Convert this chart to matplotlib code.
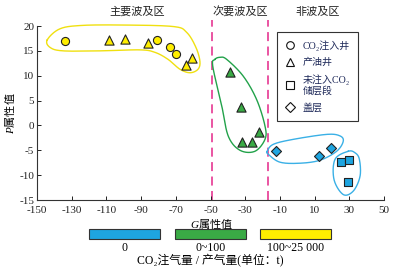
import numpy as np
import matplotlib
matplotlib.use('Agg')
import matplotlib.pyplot as plt
from matplotlib.lines import Line2D
from matplotlib.patches import Rectangle

plt.rcParams['font.family'] = ['Liberation Serif', 'DejaVu Serif', 'Noto Sans CJK SC']
plt.rcParams['mathtext.fontset'] = 'custom'
plt.rcParams['mathtext.it'] = 'Liberation Serif:italic'
plt.rcParams['mathtext.rm'] = 'Liberation Serif'
plt.rcParams['axes.unicode_minus'] = False

# --- data (G, P) ---
inj_g = [-134, -81, -73.5, -70]            # CO2 injection wells (yellow)
inj_p = [17.0, 17.1, 15.7, 14.3]
prod_main_g = [-108.5, -99, -86, -64, -60.5]  # oil wells, main zone (yellow)
prod_main_p = [17.2, 17.4, 16.6, 12.1, 13.5]
prod_sec_g = [-39, -32.5, -22, -32, -26]      # oil wells, secondary zone (green)
prod_sec_p = [10.8, 3.8, -1.3, -3.3, -3.3]
cap_g = [-12.5, 12.5, 19.5]                   # cap rock (blue)
cap_p = [-5.2, -6.2, -4.6]
res_g = [25.5, 30, 29]                        # reservoir without CO2 (blue)
res_p = [-7.4, -7.0, -11.3]

zone_bounds = [-49, -17]
zone_names = ['主要波及区', '次要波及区', '非波及区']
zone_label_x = [-92, -33, 11.5]

class_colors = ['#1ea5e0', '#3aaa45', '#ffee00']
class_edges = ['#3ab0e6', '#22a24a', '#f0e010']
class_labels = ['0', '0~100', '100~25 000']

legend_labels = ['CO₂注入井', '产油井', '未注入CO₂\n储层段', '盖层']
legend_markers = ['o', '^', 's', 'D']

# hand-traced enclosures around the groups
main_zone = [(-144.1, 17.2), (-137, 19.4), (-125, 20.1), (-102, 20.2), (-71.6, 19.9),
             (-63.7, 18.7), (-58.4, 15.7), (-56.1, 12.9), (-57.2, 11.3), (-61.8, 10.6),
             (-67.6, 11.3), (-74.5, 13.3), (-82, 14.7), (-90.6, 15.2), (-113.7, 15.0),
             (-135, 15.0), (-142.5, 15.7)]
sec_zone = [(-47.4, 13.3), (-48.7, 11.9), (-43.5, 3.9), (-39.7, -2.2), (-33, -5.0),
            (-24.4, -5.2), (-18.6, -2.8), (-18.6, -0.1), (-23.4, 5.2), (-31.1, 9.9),
            (-40.7, 13.3), (-44.5, 13.7)]
cap_zone = [(-17.3, -5.2), (-13.8, -3.8), (-2.3, -2.8), (17.0, -1.8), (24.6, -2.1),
            (26.5, -3.2), (22.7, -5.2), (13.1, -7.0), (1.6, -7.6), (-9.9, -7.4),
            (-16.7, -5.8)]
res_zone = [(29.4, -5.2), (21.8, -6.8), (21.2, -10.9), (26.5, -13.9), (32.3, -13.2),
            (36.2, -10.2), (35.8, -6.8), (33.3, -5.5)]


def smooth_closed(pts, n=30):
    # closed Catmull-Rom spline, computed in roughly pixel-proportional units
    sx, sy = 1.735, 4.97
    p = np.array(pts, float) * [sx, sy]
    N = len(p)
    t = np.linspace(0, 1, n, endpoint=False)[:, None]
    segs = []
    for i in range(N):
        p0, p1, p2, p3 = p[i - 1], p[i], p[(i + 1) % N], p[(i + 2) % N]
        segs.append(0.5 * (2 * p1 + (-p0 + p2) * t + (2 * p0 - 5 * p1 + 4 * p2 - p3) * t ** 2
                           + (-p0 + 3 * p1 - 3 * p2 + p3) * t ** 3))
    out = np.vstack(segs + [segs[0][:1]])
    return out[:, 0] / sx, out[:, 1] / sy


fig = plt.figure(figsize=(4, 2.72), dpi=100)
ax = fig.add_axes([0.0925, 0.2647, 0.8675, 0.6397])

for shape, col in [(main_zone, class_edges[2]), (sec_zone, class_edges[1]),
                   (cap_zone, class_edges[0]), (res_zone, class_edges[0])]:
    xs, ys = smooth_closed(shape)
    ax.plot(xs, ys, color=col, lw=1.0, zorder=2, clip_on=False)

for xb in zone_bounds:
    ax.plot([xb, xb], [-15, 21.3], color='#e8479b', lw=1.3, ls=(0, (5, 3)),
            clip_on=False, zorder=1)

mk = dict(edgecolors='#222222', linewidths=0.8, zorder=3)
ax.scatter(inj_g, inj_p, marker='o', s=34, c=class_colors[2], **mk)
ax.scatter(prod_main_g, prod_main_p, marker='^', s=44, c=class_colors[2], **mk)
ax.scatter(prod_sec_g, prod_sec_p, marker='^', s=44, c=class_colors[1], **mk)
ax.scatter(cap_g, cap_p, marker='D', s=26, c=class_colors[0], **mk)
ax.scatter(res_g, res_p, marker='s', s=26, c=class_colors[0], **mk)

for name, xl in zip(zone_names, zone_label_x):
    ax.text(xl, 22.9, name, ha='center', va='center', fontsize=8,
            family=['Noto Sans CJK SC'], color='#222222', clip_on=False)

ax.set_xlim(-150, 50)
ax.set_ylim(-15, 20)
ax.set_xticks(np.arange(-150, 51, 20))
ax.set_yticks(np.arange(-15, 21, 5))
ax.tick_params(direction='in', length=3, width=0.7, labelsize=8, colors='#222222', pad=2)
ax.tick_params(axis='x', pad=4)
for side in ['top', 'right']:
    ax.spines[side].set_visible(False)
for side in ['left', 'bottom']:
    ax.spines[side].set_linewidth(0.8)
    ax.spines[side].set_color('#333333')

ax.set_xlabel(r'$G$属性值', fontsize=8, family=['Noto Sans CJK SC'])
ax.xaxis.set_label_coords(0.503, -0.095)
ax.set_ylabel(r'$P$属性值', fontsize=8, family=['Noto Sans CJK SC'])
ax.yaxis.set_label_coords(-0.058, 0.5)

handles = [Line2D([], [], marker=m, ls='none', mfc='white', mec='#111111', mew=0.8, ms=5.5)
           for m in legend_markers]
leg = fig.legend(handles, legend_labels, loc='upper left',
                 bbox_to_anchor=(277 / 400, 1 - 32 / 272), borderaxespad=0,
                 prop={'family': ['Liberation Serif', 'Noto Sans CJK SC'], 'size': 7.2},
                 frameon=True, fancybox=False, edgecolor='#333333', framealpha=1,
                 handlelength=1.0, handletextpad=0.8, borderpad=0.8, labelspacing=0.7)
leg.get_frame().set_linewidth(0.8)
for t in leg.get_texts():
    t.set_color('#1f2a5a')

# colour class swatches under the axes
sw_x = [89, 175, 260]
for xp, col, lab in zip(sw_x, class_colors, class_labels):
    fig.patches.append(Rectangle((xp / 400, 1 - 239 / 272), 71 / 400, 10 / 272,
                                 transform=fig.transFigure, facecolor=col,
                                 edgecolor='#333333', lw=0.8))
    fig.text((xp + 35.5) / 400, 1 - 248 / 272, lab, ha='center', va='center', fontsize=8.5)
fig.text(0.525, 1 - 260 / 272, 'CO₂注气量 / 产气量(单位：t)', ha='center', va='center',
         fontsize=8.5)

fig.savefig('out.png', dpi=100)
